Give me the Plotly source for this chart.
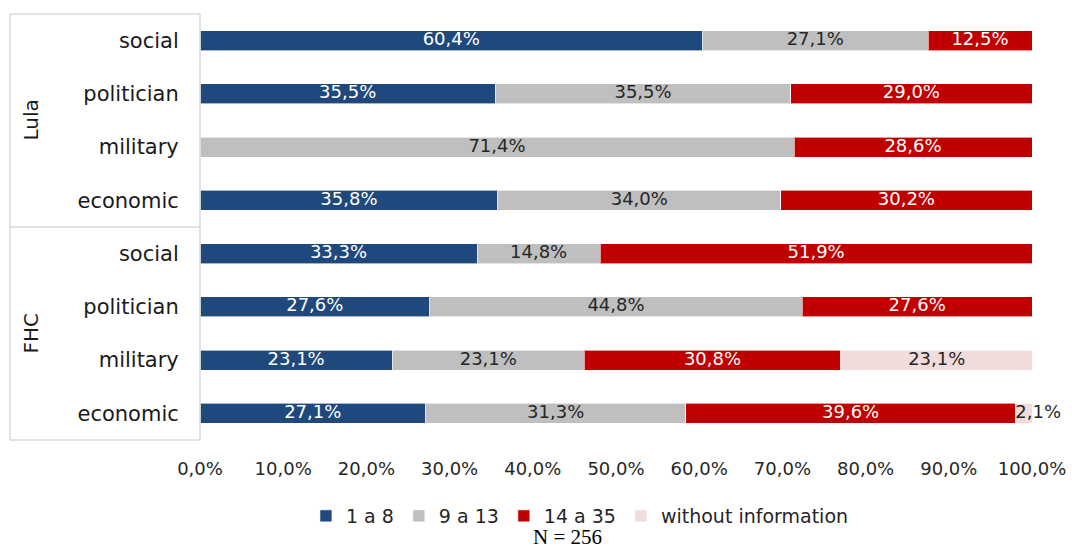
import plotly.graph_objects as go

categories = ["social", "politician", "military", "economic",
              "social", "politician", "military", "economic"]
groups = ["Lula", "FHC"]
series_names = ["1 a 8", "9 a 13", "14 a 35", "without information"]
s1 = [60.4, 35.5, None, 35.8, 33.3, 27.6, 23.1, 27.1]
s2 = [27.1, 35.5, 71.4, 34.0, 14.8, 44.8, 23.1, 31.3]
s3 = [12.5, 29.0, 28.6, 30.2, 51.9, 27.6, 30.8, 39.6]
s4 = [None, None, None, None, None, None, 23.1, 2.1]
x_ticks = [0, 10, 20, 30, 40, 50, 60, 70, 80, 90, 100]
x_tick_labels = ["0,0%", "10,0%", "20,0%", "30,0%", "40,0%", "50,0%",
                 "60,0%", "70,0%", "80,0%", "90,0%", "100,0%"]
note = "N = 256"

colors = ["#1F497D", "#BFBFBF", "#C00000", "#F2DCDB"]
text_colors = ["white", "#262626", "white", "#262626"]
FONT = "'DejaVu Sans', Verdana, sans-serif"


def fmt(v):
    return ("%.1f%%" % v).replace(".", ",")


ypos = list(range(len(categories)))
all_series = [s1, s2, s3, s4]
fig = go.Figure()
for name, vals, c in zip(series_names, all_series, colors):
    fig.add_trace(go.Bar(
        y=ypos, x=vals, name=name, orientation="h",
        marker=dict(color=c, line=dict(color="rgba(255,255,255,0.6)", width=1)),
        hoverinfo="x+name",
    ))

# data labels: centred in each segment, or just after the segment start when it is too narrow
left = [0.0] * len(ypos)
for vals, tc in zip(all_series, text_colors):
    cx, cy, ct, nx, ny, nt = [], [], [], [], [], []
    for i in ypos:
        v = vals[i]
        if v:
            if v >= 5:
                cx.append(left[i] + v / 2)
                cy.append(i)
                ct.append(fmt(v))
            else:
                nx.append(left[i])
                ny.append(i)
                nt.append(fmt(v))
            left[i] += v
    fig.add_trace(go.Scatter(x=cx, y=cy, text=ct, mode="text", textposition="middle center",
                             textfont=dict(color=tc, size=18, family=FONT),
                             showlegend=False, cliponaxis=False, hoverinfo="skip"))
    if nx:
        fig.add_trace(go.Scatter(x=nx, y=ny, text=nt, mode="text", textposition="middle right",
                                 textfont=dict(color="#262626", size=18, family=FONT),
                                 showlegend=False, cliponaxis=False, hoverinfo="skip"))

fig.update_layout(
    barmode="stack", bargap=0.62,
    width=1072, height=549,
    margin=dict(l=200, r=40, t=14, b=109, autoexpand=False),
    plot_bgcolor="white", paper_bgcolor="white",
    font=dict(family=FONT, color="#262626"),
    legend=dict(orientation="h", xref="container", yref="container",
                x=0.541, xanchor="center", y=1 - 516 / 549, yanchor="middle",
                font=dict(size=19, family=FONT, color="#262626"),
                itemwidth=30, traceorder="normal"),
    xaxis=dict(range=[0, 100], tickvals=x_ticks, ticktext=x_tick_labels, automargin=False,
               showgrid=False, zeroline=False, showline=False,
               ticks="outside", ticklen=12, tickcolor="rgba(0,0,0,0)",
               tickfont=dict(size=18, family=FONT, color="#262626")),
    yaxis=dict(range=[7.5, -0.5], tickvals=ypos, ticktext=categories, automargin=False,
               showgrid=False, zeroline=False, showline=False,
               ticks="outside", ticklen=16, tickcolor="rgba(0,0,0,0)",
               tickfont=dict(size=21, family=FONT, color="#1a1a1a")),
)

line = dict(color="#D9D9D9", width=1.5)
xl = -190 / 832
shapes = [
    dict(type="line", xref="paper", yref="paper", x0=0, x1=0, y0=0, y1=1, line=line),
    dict(type="line", xref="paper", yref="paper", x0=xl, x1=xl, y0=0, y1=1, line=line),
    dict(type="line", xref="paper", yref="paper", x0=xl, x1=0, y0=1, y1=1, line=line),
    dict(type="line", xref="paper", yref="paper", x0=xl, x1=0, y0=0, y1=0, line=line),
    dict(type="line", xref="paper", yref="y", x0=xl, x1=0, y0=3.5, y1=3.5, line=line),
]
fig.update_layout(shapes=shapes)

for g, yc in zip(groups, [1.5, 5.5]):
    fig.add_annotation(text=g, xref="paper", yref="y", x=-170 / 832, y=yc,
                       textangle=-90, showarrow=False, xanchor="center", yanchor="middle",
                       font=dict(size=20, family=FONT, color="#1a1a1a"))

fig.add_annotation(text=note, xref="paper", yref="paper",
                   x=(567 - 200) / 832, y=-(537 - 440) / 426,
                   showarrow=False, xanchor="center", yanchor="middle",
                   font=dict(size=21, family="'Liberation Serif', 'Times New Roman', serif", color="black"))

fig.write_html("out.html")
